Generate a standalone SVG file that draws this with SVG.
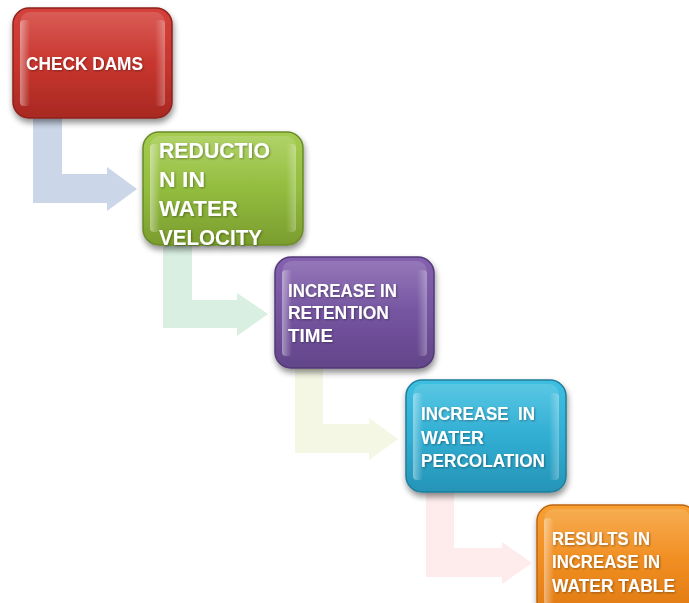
<svg xmlns="http://www.w3.org/2000/svg" width="689" height="603" viewBox="0 0 689 603">
<defs>
<filter id="sh" x="-20%" y="-20%" width="140%" height="150%">
<feGaussianBlur in="SourceAlpha" stdDeviation="3"/>
<feOffset dx="1" dy="4" result="b"/>
<feComponentTransfer><feFuncA type="linear" slope="0.45"/></feComponentTransfer>
<feMerge><feMergeNode/><feMergeNode in="SourceGraphic"/></feMerge>
</filter>
<filter id="ts" x="-10%" y="-30%" width="120%" height="160%">
<feGaussianBlur in="SourceAlpha" stdDeviation="1"/>
<feOffset dx="0.5" dy="1"/>
<feComponentTransfer><feFuncA type="linear" slope="0.35"/></feComponentTransfer>
<feMerge><feMergeNode/><feMergeNode in="SourceGraphic"/></feMerge>
</filter>
<linearGradient id="gRed" x1="0" y1="0" x2="0" y2="1"><stop offset="0" stop-color="#d4423b"/><stop offset="0.5" stop-color="#c8362f"/><stop offset="1" stop-color="#a82922"/></linearGradient>
<linearGradient id="gGreen" x1="0" y1="0" x2="0" y2="1"><stop offset="0" stop-color="#a5cc50"/><stop offset="0.5" stop-color="#93bd3f"/><stop offset="1" stop-color="#7a9c2e"/></linearGradient>
<linearGradient id="gPurple" x1="0" y1="0" x2="0" y2="1"><stop offset="0" stop-color="#8462ae"/><stop offset="0.5" stop-color="#7555a0"/><stop offset="1" stop-color="#624589"/></linearGradient>
<linearGradient id="gTeal" x1="0" y1="0" x2="0" y2="1"><stop offset="0" stop-color="#3fbfe0"/><stop offset="0.5" stop-color="#31aed3"/><stop offset="1" stop-color="#2594b6"/></linearGradient>
<linearGradient id="gOrange" x1="0" y1="0" x2="0" y2="1"><stop offset="0" stop-color="#f6a035"/><stop offset="0.5" stop-color="#f18e22"/><stop offset="1" stop-color="#de7912"/></linearGradient>
<linearGradient id="hl" x1="0" y1="0" x2="1" y2="0"><stop offset="0" stop-color="#fff" stop-opacity="0.42"/><stop offset="1" stop-color="#fff" stop-opacity="0"/></linearGradient>
<linearGradient id="hr" x1="1" y1="0" x2="0" y2="0"><stop offset="0" stop-color="#fff" stop-opacity="0.3"/><stop offset="1" stop-color="#fff" stop-opacity="0"/></linearGradient>
<linearGradient id="gloss" x1="0" y1="0" x2="0" y2="1"><stop offset="0" stop-color="#fff" stop-opacity="0.14"/><stop offset="1" stop-color="#fff" stop-opacity="0"/></linearGradient>
</defs>
<style>
.box{stroke-width:1.5}
.red{fill:url(#gRed);stroke:#8e221c}
.green{fill:url(#gGreen);stroke:#6a8a27}
.purple{fill:url(#gPurple);stroke:#533978}
.teal{fill:url(#gTeal);stroke:#1e7e9c}
.orange{fill:url(#gOrange);stroke:#c0650c}
.hl{fill:url(#hl)}
.hr{fill:url(#hr)}
.gl{fill:url(#gloss)}
.t{font-family:"Liberation Sans",Arial,sans-serif;font-weight:bold;fill:#fff;font-size:17.5px}
.tb{font-size:22px}
</style>
<g id="connectors">
<path fill="#cbd6e9" d="M33,118 L62,118 L62,174 L107,174 L107,167 L137,189 L107,211 L107,203 L33,203 Z"/>
<path fill="#d9efe2" d="M163,245 L192,245 L192,300 L237,300 L237,293 L268,314 L237,336 L237,328 L163,328 Z"/>
<path fill="#f3f7e4" d="M295,368 L323,368 L323,424 L369,424 L369,418 L398,439 L369,460 L369,453 L295,453 Z"/>
<path fill="#fdeceb" d="M426,492 L454,492 L454,548 L502,548 L502,542 L532,563 L502,584 L502,577 L426,577 Z"/>
</g>
<g id="n1" filter="url(#sh)">
<rect class="box red" x="13" y="8" width="159" height="110" rx="16"/>
<rect class="gl" x="20" y="12" width="145" height="50" rx="10"/>
<rect class="hl" x="20" y="20" width="10" height="86" rx="4"/>
<rect class="hr" x="155" y="20" width="10" height="86" rx="4"/>
<text class="t" filter="url(#ts)" x="26" y="70" textLength="117" lengthAdjust="spacingAndGlyphs">CHECK DAMS</text>
</g>
<g id="n2" filter="url(#sh)">
<rect class="box green" x="143" y="132" width="160" height="113" rx="16"/>
<rect class="gl" x="150" y="136" width="146" height="50" rx="10"/>
<rect class="hl" x="150" y="144" width="10" height="88" rx="4"/>
<rect class="hr" x="286" y="144" width="10" height="88" rx="4"/>
<g class="t tb" filter="url(#ts)">
<text x="159" y="158" textLength="111" lengthAdjust="spacingAndGlyphs">REDUCTIO</text>
<text x="159" y="187" textLength="46" lengthAdjust="spacingAndGlyphs">N IN</text>
<text x="159" y="216" textLength="79" lengthAdjust="spacingAndGlyphs">WATER</text>
<text x="159" y="245" textLength="103" lengthAdjust="spacingAndGlyphs">VELOCITY</text>
</g>
</g>
<g id="n3" filter="url(#sh)">
<rect class="box purple" x="275" y="257" width="159" height="111" rx="16"/>
<rect class="gl" x="282" y="261" width="145" height="50" rx="10"/>
<rect class="hl" x="282" y="270" width="10" height="86" rx="4"/>
<rect class="hr" x="417" y="270" width="10" height="86" rx="4"/>
<g class="t" filter="url(#ts)">
<text x="288" y="297" textLength="109" lengthAdjust="spacingAndGlyphs">INCREASE IN</text>
<text x="288" y="319" textLength="101" lengthAdjust="spacingAndGlyphs">RETENTION</text>
<text x="288" y="342" textLength="45" lengthAdjust="spacingAndGlyphs">TIME</text>
</g>
</g>
<g id="n4" filter="url(#sh)">
<rect class="box teal" x="406" y="380" width="160" height="112" rx="16"/>
<rect class="gl" x="413" y="384" width="146" height="50" rx="10"/>
<rect class="hl" x="413" y="393" width="10" height="87" rx="4"/>
<rect class="hr" x="549" y="393" width="10" height="87" rx="4"/>
<g class="t" filter="url(#ts)">
<text x="421" y="420" textLength="114" lengthAdjust="spacingAndGlyphs" xml:space="preserve">INCREASE  IN</text>
<text x="421" y="444" textLength="63" lengthAdjust="spacingAndGlyphs">WATER</text>
<text x="421" y="467" textLength="124" lengthAdjust="spacingAndGlyphs">PERCOLATION</text>
</g>
</g>
<g id="n5" filter="url(#sh)">
<rect class="box orange" x="537" y="505" width="160" height="112" rx="16"/>
<rect class="gl" x="544" y="509" width="146" height="50" rx="10"/>
<rect class="hl" x="544" y="518" width="10" height="87" rx="4"/>
<g class="t" filter="url(#ts)">
<text x="552" y="545" textLength="98" lengthAdjust="spacingAndGlyphs">RESULTS IN</text>
<text x="552" y="568" textLength="108" lengthAdjust="spacingAndGlyphs">INCREASE IN</text>
<text x="552" y="592" textLength="123" lengthAdjust="spacingAndGlyphs">WATER TABLE</text>
</g>
</g>
</svg>
